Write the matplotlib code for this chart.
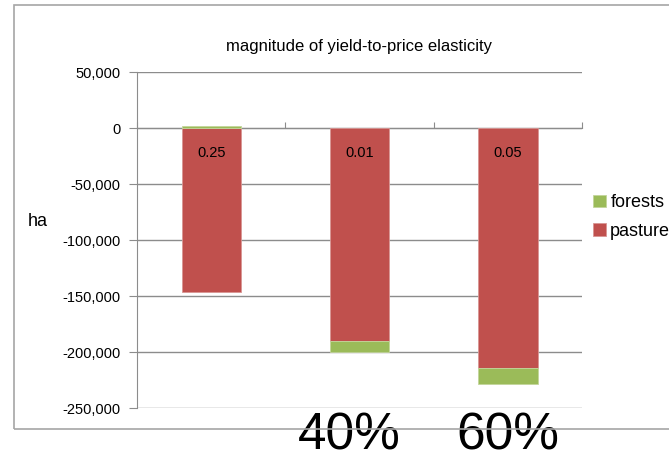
import matplotlib
matplotlib.use('Agg')
import matplotlib.pyplot as plt
from matplotlib.patches import Rectangle

plt.rcParams['font.family'] = ['Liberation Sans', 'DejaVu Sans']

categories = ['0.25', '0.01', '0.05']
pasture = [-146000, -190000, -214000]
forests = [2000, -10000, -15000]
elasticity_labels = ['0.25', '0.01', '0.05']
share_labels = ['', '40%', '60%']
yticks = [50000, 0, -50000, -100000, -150000, -200000, -250000]

RED = '#C0504D'
GREEN = '#9BBB59'
GRID = '#8c8c8c'

fig = plt.figure(figsize=(6.69, 4.54), dpi=100)
ax = fig.add_axes([137 / 669, 1 - 408 / 454, 445 / 669, 336 / 454])

x = list(range(len(categories)))
ax.bar(x, pasture, width=0.4, color=RED, edgecolor='#d99694', linewidth=0.6,
       label='pasture', zorder=3)
# forests stack beyond pasture when negative, above zero when positive
bottoms = [p if f < 0 else 0 for p, f in zip(pasture, forests)]
ax.bar(x, forests, width=0.4, bottom=bottoms, color=GREEN, edgecolor='#c3d69b',
       linewidth=0.6, label='forests', zorder=3)

for xi, lab in zip(x, elasticity_labels):
    ax.text(xi, -22000, lab, ha='center', va='center', fontsize=10.5, zorder=4)

ax.set_xlim(-0.5, 2.5)
ax.set_ylim(-250000, 50000)
ax.set_yticks(yticks)
ax.set_yticklabels(['{:,}'.format(v) for v in yticks], fontsize=10.5)
ax.yaxis.grid(True, color=GRID, linewidth=1, zorder=0)
ax.tick_params(axis='y', length=6, color=GRID, pad=6)

ax.spines['top'].set_visible(False)
ax.spines['right'].set_visible(False)
ax.spines['left'].set_color(GRID)
ax.spines['bottom'].set_position(('data', 0))
ax.spines['bottom'].set_color(GRID)
ax.set_xticks([-0.5, 0.5, 1.5, 2.5])
ax.set_xticklabels([])
ax.tick_params(axis='x', direction='in', length=4, color=GRID)

ax.set_title('magnitude of yield-to-price elasticity', fontsize=12, pad=15)

fig.text(28 / 669, 1 - 222 / 454, 'ha', fontsize=13, va='center', ha='left')

handles, labels = ax.get_legend_handles_labels()
ax.legend(handles[::-1], labels[::-1], loc='center left',
          bbox_to_anchor=(1.025, 0.568), frameon=False, fontsize=13,
          borderaxespad=0, borderpad=0,
          handlelength=0.7, handleheight=0.7, handletextpad=0.25,
          labelspacing=0.65)

# the 40% label sits a little left of its bar in the original
offsets = [0, -0.07, 0]
for xi, lab, dx in zip(x, share_labels, offsets):
    if lab:
        ax.text(xi + dx, -253000, lab, ha='center', va='top', fontsize=37,
                clip_on=False)

fig.patches.append(Rectangle((14 / 669, 1 - 429 / 454), 700 / 669, 424 / 454,
                             transform=fig.transFigure, fill=False,
                             edgecolor='#a6a6a6', linewidth=1.2))

fig.savefig('out.png', dpi=100)
